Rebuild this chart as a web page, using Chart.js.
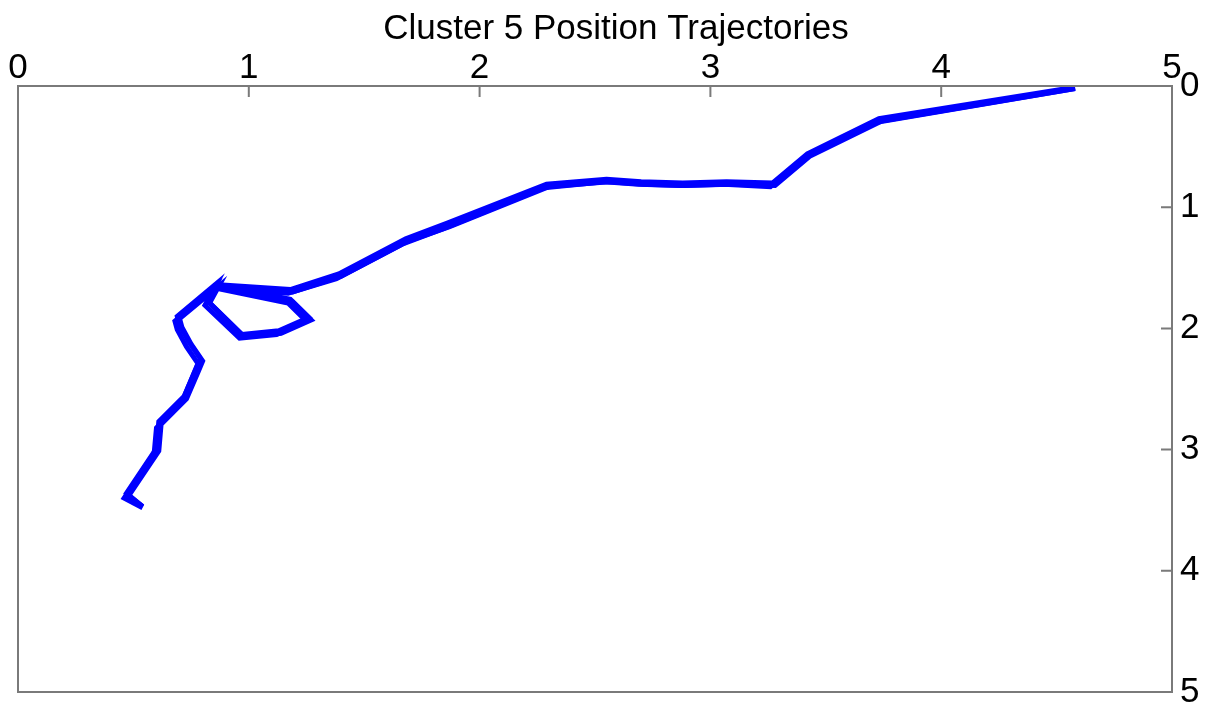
<!DOCTYPE html>
<html>
<head>
<meta charset="utf-8">
<script src="https://cdn.jsdelivr.net/npm/chart.js@4/dist/chart.umd.min.js"></script>
<style>
  html, body { margin: 0; padding: 0; background: #fff; }
  #wrap { width: 1214px; height: 707px; }
</style>
</head>
<body>
<div id="wrap"><canvas id="traj"></canvas></div>
<script>
// axis ticks
const tickValues = [0, 1, 2, 3, 4, 5];

// three overlapping trajectories
const x1 = [4.58, 3.73, 3.42, 3.27, 3.07, 2.88, 2.70, 2.55, 2.29, 1.86, 1.68, 1.39, 1.18, 0.87, 1.18, 1.26, 1.13, 0.97, 0.82, 0.86, 0.69, 0.70, 0.74, 0.79, 0.77, 0.72, 0.61, 0.60, 0.47, 0.54];
const y1 = [0.01, 0.27, 0.56, 0.80, 0.79, 0.80, 0.79, 0.77, 0.81, 1.13, 1.26, 1.55, 1.68, 1.64, 1.76, 1.91, 2.02, 2.05, 1.77, 1.63, 1.90, 1.97, 2.11, 2.25, 2.34, 2.56, 2.77, 2.99, 3.36, 3.47];

const x2 = [4.58, 3.74, 3.43, 3.28, 3.08, 2.89, 2.71, 2.56, 2.30, 1.87, 1.69, 1.40, 1.19, 0.88, 1.19, 1.27, 1.14, 0.98, 0.83, 0.87, 0.70, 0.71, 0.75, 0.80, 0.78, 0.73, 0.62, 0.61, 0.48, 0.54];
const y2 = [0.02, 0.29, 0.58, 0.82, 0.81, 0.82, 0.81, 0.79, 0.83, 1.16, 1.28, 1.57, 1.70, 1.66, 1.78, 1.93, 2.04, 2.07, 1.79, 1.65, 1.92, 1.99, 2.13, 2.27, 2.36, 2.58, 2.79, 3.01, 3.38, 3.47];

const x3 = [4.58, 3.72, 3.41, 3.26, 3.06, 2.87, 2.69, 2.54, 2.28, 1.84, 1.67, 1.38, 1.17, 0.86, 1.17, 1.25, 1.12, 0.96, 0.81, 0.85, 0.68, 0.69, 0.73, 0.78, 0.76, 0.71, 0.60, 0.59, 0.46, 0.54];
const y3 = [0.02, 0.30, 0.59, 0.83, 0.81, 0.82, 0.81, 0.79, 0.84, 1.18, 1.30, 1.59, 1.71, 1.67, 1.79, 1.94, 2.05, 2.08, 1.81, 1.67, 1.94, 2.01, 2.15, 2.29, 2.38, 2.61, 2.82, 3.03, 3.40, 3.48];

const toPoints = (xs, ys) => xs.map((x, i) => ({ x: x, y: ys[i] }));

const line = (xs, ys) => ({
    data: toPoints(xs, ys),
    showLine: true,
    borderColor: '#0000ff',
    backgroundColor: '#0000ff',
    borderWidth: 5,
    pointRadius: 0,
    tension: 0,
    borderJoinStyle: 'miter'
});

// box and inward ticks, matlab style
const boxTicks = {
    id: 'boxTicks',
    afterDraw(chart) {
        const ctx = chart.ctx;
        const a = chart.chartArea;
        const xs = chart.scales.x;
        const ys = chart.scales.y;
        ctx.save();
        ctx.strokeStyle = '#7a7a7a';
        ctx.lineWidth = 2;
        ctx.strokeRect(a.left, a.top, a.right - a.left, a.bottom - a.top);
        ctx.beginPath();
        tickValues.forEach(v => {
            const px = xs.getPixelForValue(v);
            ctx.moveTo(px, a.top);
            ctx.lineTo(px, a.top + 11);
            const py = ys.getPixelForValue(v);
            ctx.moveTo(a.right, py);
            ctx.lineTo(a.right - 11, py);
        });
        ctx.stroke();
        ctx.restore();
    }
};

const font = { family: '"Liberation Sans", Arial, sans-serif', size: 35 };

new Chart(document.getElementById('traj'), {
    type: 'scatter',
    data: { datasets: [line(x1, y1), line(x2, y2), line(x3, y3)] },
    options: {
        responsive: true,
        maintainAspectRatio: false,
        animation: false,
        layout: { padding: { left: 18, right: 0, top: 0, bottom: 15 } },
        plugins: {
            legend: { display: false },
            tooltip: { enabled: false },
            title: {
                display: true,
                text: 'Cluster 5 Position Trajectories',
                color: '#000',
                font: { family: font.family, size: 35, weight: 'normal', lineHeight: 1.2 },
                padding: { top: 8, bottom: 0 }
            }
        },
        scales: {
            x: {
                type: 'linear',
                position: 'top',
                min: 0,
                max: 5,
                grid: { display: false, drawTicks: false },
                border: { display: false },
                ticks: { stepSize: 1, color: '#000', font: font, padding: -3, maxRotation: 0 },
                afterFit: s => { s.height = 36; s.paddingLeft = 0; s.paddingRight = 0; }
            },
            y: {
                type: 'linear',
                position: 'right',
                reverse: true,
                min: 0,
                max: 5,
                grid: { display: false, drawTicks: false },
                border: { display: false },
                ticks: { stepSize: 1, color: '#000', font: font, padding: 8 },
                afterFit: s => { s.width = 42; s.paddingTop = 0; s.paddingBottom = 0; }
            }
        }
    },
    plugins: [boxTicks]
});
</script>
</body>
</html>
